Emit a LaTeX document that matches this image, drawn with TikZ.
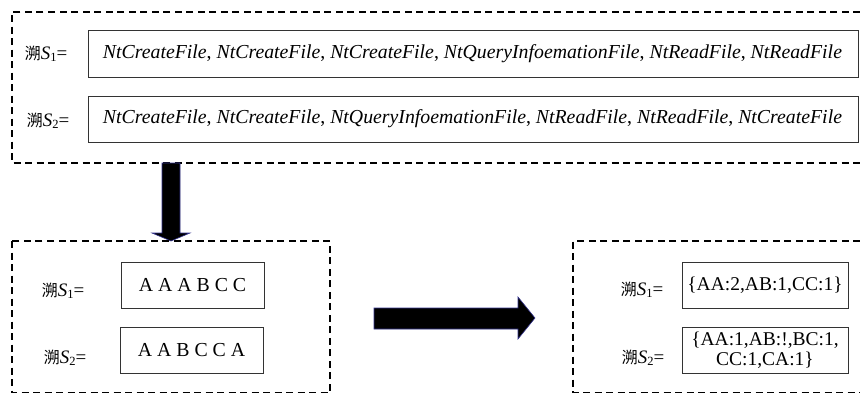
\documentclass[tikz,border=0pt]{standalone}
\usepackage{fontspec}
\setmainfont{Liberation Serif}
\newfontfamily\cjk{Noto Sans CJK SC}
\newcommand{\lbl}[1]{{\cjk\fontsize{16}{16}\selectfont 溯}\textit{S}\raisebox{-0.25ex}{\fontsize{12.5}{12.5}\selectfont #1}=}
\begin{document}
\begin{tikzpicture}[x=1pt,y=-1pt,
  dashbox/.style={draw=black,line width=1.5pt,dash pattern=on 7pt off 4.5pt},
  seqbox/.style={draw=black!80,line width=0.8pt,inner sep=0pt},
  blockarrow/.style={fill=black,draw=black!40!blue!60!gray,line width=0.6pt},
  lab/.style={font=\fontsize{19}{20}\selectfont,inner sep=0pt}]
\useasboundingbox (0,0) rectangle (860,394);
% top dashed group
\draw[dashbox] (860,12) -- (12,12) -- (12,163) -- (860,163);
\node[seqbox,minimum width=770pt,minimum height=47pt] (t1) at (473,53.5) {};
\node[seqbox,minimum width=770pt,minimum height=46pt] (t2) at (473,119) {};
\node[lab,font=\fontsize{19.8}{20}\selectfont\itshape] (t1txt) at (472.5,53.5) {NtCreateFile\upshape, \itshape NtCreateFile\upshape, \itshape NtCreateFile\upshape, \itshape NtQueryInfoemationFile\upshape, \itshape NtReadFile\upshape, \itshape NtReadFile};
\node[lab,font=\fontsize{19.8}{20}\selectfont\itshape] (t2txt) at (472.5,119) {NtCreateFile\upshape, \itshape NtCreateFile\upshape, \itshape NtQueryInfoemationFile\upshape, \itshape NtReadFile\upshape, \itshape NtReadFile\upshape, \itshape NtCreateFile};
\node[lab] (tl1) at (46,54) {\lbl{1}};
\node[lab] (tl2) at (48,121) {\lbl{2}};
% down arrow
\draw[blockarrow] (162,163) -- (180,163) -- (180,233) -- (190,233) -- (171,241) -- (152,233) -- (162,233) -- cycle;
% bottom-left group
\draw[dashbox] (12,241) rectangle (330,392.5);
\node[seqbox,minimum width=143pt,minimum height=46pt,font=\fontsize{19.8}{20}\selectfont] (b1) at (192.5,285) {A A A B C C};
\node[seqbox,minimum width=143pt,minimum height=46pt,font=\fontsize{19.8}{20}\selectfont] (b2) at (191.5,350) {A A B C C A};
\node[lab] (bl1) at (63,291) {\lbl{1}};
\node[lab] (bl2) at (65,358) {\lbl{2}};
% right arrow
\draw[blockarrow] (374,308) -- (518,308) -- (518,297) -- (535,318) -- (518,339) -- (518,329) -- (374,329) -- cycle;
% bottom-right group
\draw[dashbox] (860,241) -- (573,241) -- (573,392.5) -- (860,392.5);
\node[seqbox,minimum width=166pt,minimum height=46pt,font=\fontsize{19.5}{20}\selectfont] (r1) at (765,285) {\{AA:2,AB:1,CC:1\}};
\node[seqbox,minimum width=166pt,minimum height=46pt,font=\fontsize{19.5}{20}\selectfont,align=center] (r2) at (765,350) {\{AA:1,AB:!,BC:1,\\CC:1,CA:1\}};
\node[lab] (rl1) at (642,290) {\lbl{1}};
\node[lab] (rl2) at (643,358) {\lbl{2}};
\end{tikzpicture}
\end{document}
